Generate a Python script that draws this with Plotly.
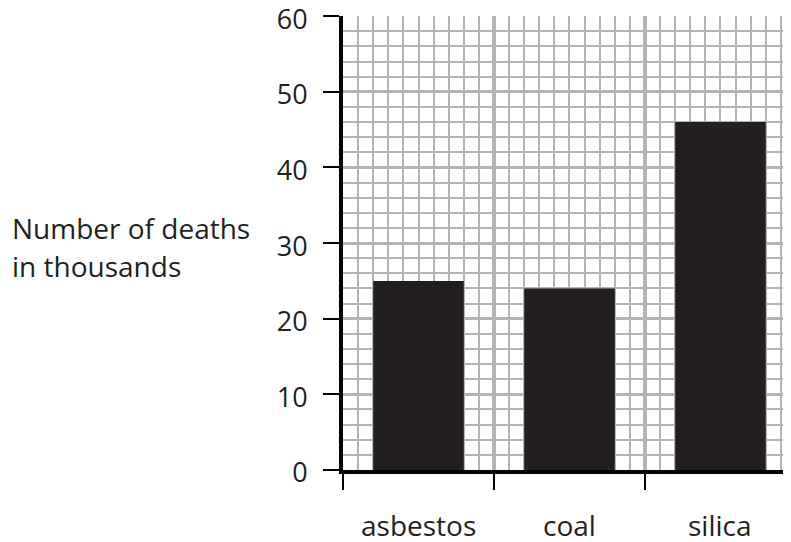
import plotly.graph_objects as go

categories = ["asbestos", "coal", "silica"]
deaths_thousands = [25, 24, 46]
y_ticks = [0, 10, 20, 30, 40, 50, 60]

INK = "#231f20"
GRID = "#b3b3b3"
FONT = "Open Sans"
FS = 28

xpos = list(range(len(categories)))

# page has an 8px body margin; figure is sized to fit the 791x542 window
OFF = 8
FW, FH = 791 - OFF, 542 - OFF
L, T, W, H = 343 - OFF, 16 - OFF, 448, 454

fig = go.Figure()
fig.add_trace(go.Bar(x=xpos, y=deaths_thousands, width=0.6,
                     marker=dict(color=INK, line=dict(width=0))))

fig.update_layout(
    width=FW, height=FH,
    margin=dict(l=L, r=FW - L - W, t=T, b=FH - T - H, autoexpand=False),
    plot_bgcolor="white", paper_bgcolor="white",
    showlegend=False,
    font=dict(family=FONT, size=FS, color=INK),
    xaxis=dict(
        range=[-0.5, 2.467],
        tickvals=[-0.5, 0.5, 1.5],
        ticktext=["", "", ""],
        ticks="outside", ticklen=16, tickwidth=2, tickcolor="black",
        showgrid=True, gridcolor=GRID, gridwidth=4,
        minor=dict(dtick=0.1, tick0=-0.5, showgrid=True, gridcolor=GRID, gridwidth=2, ticks=""),
        showline=True, linecolor="black", linewidth=4,
        zeroline=False, fixedrange=True, automargin=False,
    ),
    yaxis=dict(
        range=[0, 60.02],
        tickvals=y_ticks,
        ticks="outside", ticklen=16, tickwidth=2, tickcolor="black",
        ticklabelstandoff=10, ticklabeloverflow="allow", ticklabelshift=3,
        showgrid=True, gridcolor=GRID, gridwidth=3,
        minor=dict(dtick=2, showgrid=True, gridcolor=GRID, gridwidth=2, ticks=""),
        showline=True, linecolor="black", linewidth=4,
        zeroline=False, fixedrange=True, automargin=False,
        tickfont=dict(size=27, color=INK),
    ),
)

for i, c in enumerate(categories):
    fig.add_annotation(x=i, y=0, xref="x", yref="paper", yshift=-55,
                       text=c, showarrow=False, font=dict(size=FS, color=INK),
                       yanchor="middle")

fig.add_annotation(text="Number of deaths", showarrow=False, xanchor="left", yanchor="middle",
                   xref="paper", yref="paper", x=(2 - L) / W, y=(T + H - (228 - OFF)) / H,
                   font=dict(size=FS, color=INK))
fig.add_annotation(text="in thousands", showarrow=False, xanchor="left", yanchor="middle",
                   xref="paper", yref="paper", x=(2 - L) / W, y=(T + H - (266 - OFF)) / H,
                   font=dict(size=FS, color=INK))

fig.write_html("out.html")
